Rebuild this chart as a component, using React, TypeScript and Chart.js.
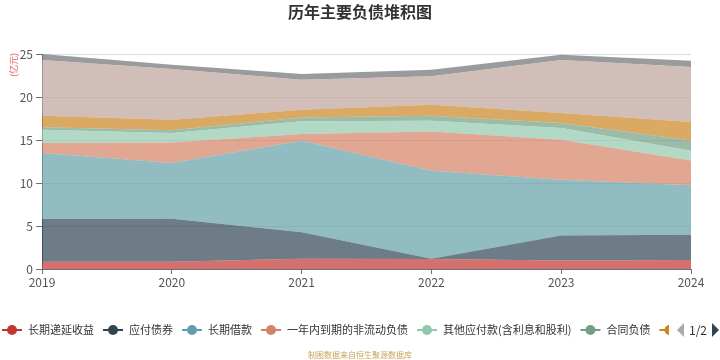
import { useEffect, useRef } from 'react';
import { Chart, registerables } from 'chart.js';

Chart.register(...registerables);

const FONT = "'Noto Sans CJK SC', 'Noto Sans', sans-serif";

const years = ['2019', '2020', '2021', '2022', '2023', '2024'];
const seriesNames = [
  '长期递延收益',
  '应付债券',
  '长期借款',
  '一年内到期的非流动负债',
  '其他应付款(含利息和股利)',
  '合同负债',
  '租赁负债',
  '应付账款',
  '应付票据',
];
const deferredIncome = [0.85, 0.85, 1.2, 1.15, 1.0, 1.05];
const bondsPayable = [4.96, 5.0, 3.06, 0.05, 2.9, 2.94];
const longTermLoans = [7.68, 6.48, 10.66, 10.23, 6.48, 5.74];
const currentNonCurrent = [1.16, 2.39, 0.78, 4.57, 4.65, 2.9];
const otherPayables = [1.55, 1.09, 1.47, 1.24, 1.37, 1.13];
const contractLiab = [0.27, 0.31, 0.46, 0.59, 0.58, 1.19];
const leaseLiab = [1.36, 1.24, 0.89, 1.27, 1.16, 2.14];
const accountsPayable = [6.47, 5.89, 3.48, 3.3, 6.16, 6.4];
const notesPayable = [0.7, 0.5, 0.67, 0.77, 0.62, 0.73];
const yTicks = [0, 5, 10, 15, 20, 25];

const seriesValues = [
  deferredIncome,
  bondsPayable,
  longTermLoans,
  currentNonCurrent,
  otherPayables,
  contractLiab,
  leaseLiab,
  accountsPayable,
  notesPayable,
];
const colors = ['#c23531', '#2f4554', '#61a0a8', '#d48265', '#91c7ae', '#749f83', '#ca8622', '#bda29a', '#6e7074'];

function withAlpha(hex: string, a: number) {
  const r = parseInt(hex.slice(1, 3), 16);
  const g = parseInt(hex.slice(3, 5), 16);
  const b = parseInt(hex.slice(5, 7), 16);
  return `rgba(${r},${g},${b},${a})`;
}

const decorPlugin = {
  id: 'decor',
  afterDraw(chart: any) {
    const ctx = chart.ctx as CanvasRenderingContext2D;
    ctx.save();
    // Title
    ctx.fillStyle = '#333';
    ctx.font = `bold 16px ${FONT}`;
    ctx.textAlign = 'center';
    ctx.textBaseline = 'middle';
    ctx.fillText('历年主要负债堆积图', 360, 12);

    // Unit label
    ctx.save();
    ctx.translate(14, 65);
    ctx.rotate(-Math.PI / 2);
    ctx.fillStyle = '#e06666';
    ctx.font = `9px ${FONT}`;
    ctx.textAlign = 'center';
    ctx.textBaseline = 'middle';
    ctx.fillText('(亿元)', 0, 0);
    ctx.restore();

    // Legend
    ctx.save();
    ctx.beginPath();
    ctx.rect(0, 310, 669, 40);
    ctx.clip();
    let x = 2;
    const ly = 330;
    ctx.font = `11px ${FONT}`;
    ctx.textAlign = 'left';
    ctx.textBaseline = 'middle';
    chart.data.datasets.forEach((ds: any, i: number) => {
      const c = colors[i];
      ctx.strokeStyle = c;
      ctx.lineWidth = 2;
      ctx.beginPath();
      ctx.moveTo(x, ly);
      ctx.lineTo(x + 20, ly);
      ctx.stroke();
      ctx.fillStyle = c;
      ctx.beginPath();
      ctx.arc(x + 10, ly, 5, 0, Math.PI * 2);
      ctx.fill();
      ctx.fillStyle = '#333';
      ctx.fillText(ds.label, x + 26, ly);
      x += 26 + ctx.measureText(ds.label).width + 9;
    });
    ctx.restore();

    // Pager
    ctx.fillStyle = '#aaa';
    ctx.beginPath();
    ctx.moveTo(684, 323);
    ctx.lineTo(684, 337);
    ctx.lineTo(677, 330);
    ctx.closePath();
    ctx.fill();
    ctx.fillStyle = '#333';
    ctx.font = `12px ${FONT}`;
    ctx.textAlign = 'left';
    ctx.textBaseline = 'middle';
    ctx.fillText('1/2', 689, 330);
    ctx.fillStyle = '#2f4554';
    ctx.beginPath();
    ctx.moveTo(712, 323);
    ctx.lineTo(712, 337);
    ctx.lineTo(719, 330);
    ctx.closePath();
    ctx.fill();

    // Source
    ctx.fillStyle = '#c8a45a';
    ctx.font = `8px ${FONT}`;
    ctx.textAlign = 'center';
    ctx.textBaseline = 'middle';
    ctx.fillText('制图数据来自恒生聚源数据库', 360, 355);
    ctx.restore();
  },
};

export default function App() {
  const ref = useRef<HTMLCanvasElement>(null);
  useEffect(() => {
    if (!ref.current) return;
    const chart = new Chart(ref.current, {
      type: 'line',
      data: {
        labels: years,
        datasets: seriesValues.map((vals, i) => ({
          label: seriesNames[i],
          data: vals,
          backgroundColor: withAlpha(colors[i], 0.7),
          borderColor: withAlpha(colors[i], 0.7),
          borderWidth: 0,
          pointRadius: 0,
          tension: 0,
          fill: i === 0 ? 'origin' : '-1',
        })),
      },
      options: {
        responsive: false,
        animation: false,
        devicePixelRatio: 1,
        layout: { padding: { top: 54, left: 0, right: 29, bottom: 71 } },
        plugins: {
          legend: { display: false },
          title: { display: false },
          tooltip: { enabled: false },
        },
        scales: {
          x: {
            type: 'category',
            offset: false,
            afterFit: (s: any) => {
              s.height = 20;
            },
            grid: {
              drawOnChartArea: false,
              drawTicks: true,
              tickLength: 5,
              tickColor: '#6e7079',
            },
            border: { display: true, color: '#6e7079', width: 1 },
            ticks: {
              color: '#555',
              font: { family: FONT, size: 12 },
              padding: 1,
              maxRotation: 0,
              autoSkip: false,
            },
          },
          y: {
            stacked: true,
            min: 0,
            max: 25,
            afterFit: (s: any) => {
              s.width = 42;
            },
            afterBuildTicks: (s: any) => {
              s.ticks = yTicks.map((v) => ({ value: v }));
            },
            grid: {
              color: '#dcdcdc',
              tickColor: '#6e7079',
              tickLength: 6,
              drawTicks: true,
            },
            border: { display: true, color: '#6e7079', width: 1 },
            ticks: {
              color: '#555',
              font: { family: FONT, size: 12 },
              padding: 3,
            },
          },
        },
      },
      plugins: [decorPlugin],
    });
    return () => chart.destroy();
  }, []);
  return (
    <div style={{ position: 'fixed', left: 0, top: 0, width: 720, height: 360, background: '#fff' }}>
      <canvas ref={ref} width={720} height={360} style={{ display: 'block' }} />
    </div>
  );
}
